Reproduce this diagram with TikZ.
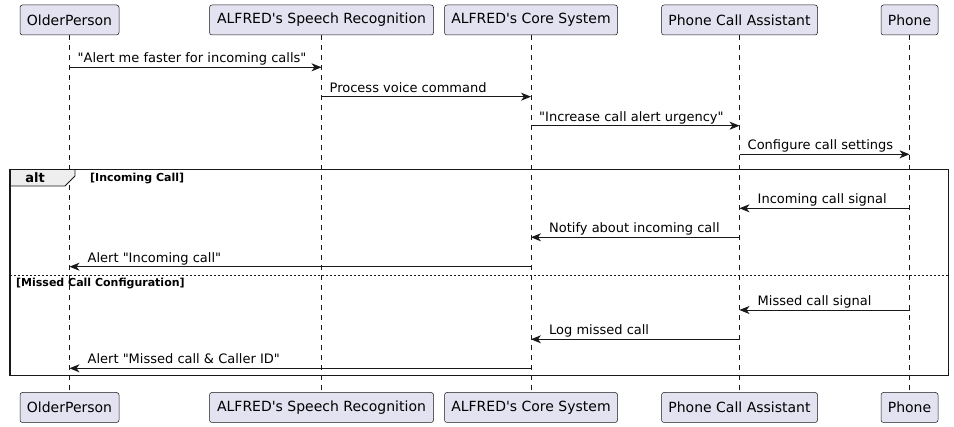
\documentclass[tikz,border=0pt]{standalone}
\usepackage{fontspec}
\setmainfont{DejaVu Sans}[Ligatures=TeXOff]
\usetikzlibrary{arrows.meta}
\definecolor{partfill}{HTML}{E2E2F0}
\definecolor{ink}{HTML}{181818}
\definecolor{tabfill}{HTML}{EEEEEE}
\tikzset{
  part/.style={draw=ink, fill=partfill, rounded corners=2.5pt, line width=0.5pt, minimum height=30pt, inner sep=0pt, font=\fontsize{14}{16}\selectfont},
  life/.style={draw=ink, line width=0.5pt, dash pattern=on 5pt off 5pt},
  msg/.style={draw=ink, line width=0.8pt, -{Stealth[length=10pt,width=8pt,inset=3pt]}},
  lbl/.style={anchor=base west, inner sep=0pt, font=\fontsize{13}{15}\selectfont},
  guard/.style={anchor=base west, inner sep=0pt, font=\fontsize{11}{13}\selectfont\bfseries},
}
\begin{document}
\begin{tikzpicture}[x=1pt,y=-1pt]
\useasboundingbox (0,0) rectangle (954,427);
\fill[white] (0,0) rectangle (954,427);
% participants top
\node[part, minimum width=99pt]  (opT) at (69.5,20) {OlderPerson};
\node[part, minimum width=224pt] (srT) at (321.5,20) {ALFRED's Speech Recognition};
\node[part, minimum width=173pt] (csT) at (531,20) {ALFRED's Core System};
\node[part, minimum width=156pt] (paT) at (739.5,20) {Phone Call Assistant};
\node[part, minimum width=57pt]  (phT) at (909.5,20) {Phone};
% participants bottom
\node[part, minimum width=99pt]  (opB) at (69.5,407.5) {OlderPerson};
\node[part, minimum width=224pt] (srB) at (321.5,407.5) {ALFRED's Speech Recognition};
\node[part, minimum width=173pt] (csB) at (531,407.5) {ALFRED's Core System};
\node[part, minimum width=156pt] (paB) at (739.5,407.5) {Phone Call Assistant};
\node[part, minimum width=57pt]  (phB) at (909.5,407.5) {Phone};
% lifelines
\foreach \p in {op,sr,cs,pa,ph}{
  \draw[life] (\p T.south) -- (\p B.north);
}
% alt frame
\coordinate (fTL) at (10,169.5);
\coordinate (fBR) at (948.5,375.5);
\fill[tabfill] (10,169.5) -- (75,169.5) -- (75,176) -- (65,186) -- (10,186) -- cycle;
\draw[ink, line width=0.8pt] (10,186) -- (65,186) -- (75,176) -- (75,169.5);
\draw[ink, line width=1.5pt] (fTL) rectangle (fBR);
\node[anchor=base, inner sep=0pt, font=\fontsize{13}{15}\selectfont\bfseries] (altlbl) at (35,182.5) {alt};
\node[guard] (g1) at (90,181.5) {[Incoming Call]};
\draw[ink, line width=0.8pt, dash pattern=on 2pt off 2pt] (10,275.5) -- (948.5,275.5);
\node[guard] (g2) at (16,286.5) {[Missed Call Configuration]};
% message coordinates
\foreach \i/\y in {1/67.3,2/96.7,3/125.7,4/154.3,5/208.3,6/237.3,7/266.7,8/310,9/339.3,10/368.3}{
  \coordinate (op\i) at (69.5,\y);
  \coordinate (sr\i) at (321.5,\y);
  \coordinate (cs\i) at (531,\y);
  \coordinate (pa\i) at (739.5,\y);
  \coordinate (ph\i) at (909.5,\y);
}
% messages
\draw[msg] (op1) -- (sr1);
\node[lbl] (m1) at ([xshift=8pt,yshift=4.3pt]op1) {"Alert me faster for incoming calls"};
\draw[msg] (sr2) -- (cs2);
\node[lbl] (m2) at ([xshift=8pt,yshift=4.3pt]sr2) {Process voice command};
\draw[msg] (cs3) -- (pa3);
\node[lbl] (m3) at ([xshift=8pt,yshift=4.3pt]cs3) {"Increase call alert urgency"};
\draw[msg] (pa4) -- (ph4);
\node[lbl] (m4) at ([xshift=8pt,yshift=4.3pt]pa4) {Configure call settings};
\draw[msg] (ph5) -- (pa5);
\node[lbl] (m5) at ([xshift=18pt,yshift=4.3pt]pa5) {Incoming call signal};
\draw[msg] (pa6) -- (cs6);
\node[lbl] (m6) at ([xshift=18pt,yshift=4.3pt]cs6) {Notify about incoming call};
\draw[msg] (cs7) -- (op7);
\node[lbl] (m7) at ([xshift=18pt,yshift=4.3pt]op7) {Alert "Incoming call"};
\draw[msg] (ph8) -- (pa8);
\node[lbl] (m8) at ([xshift=18pt,yshift=4.3pt]pa8) {Missed call signal};
\draw[msg] (pa9) -- (cs9);
\node[lbl] (m9) at ([xshift=18pt,yshift=4.3pt]cs9) {Log missed call};
\draw[msg] (cs10) -- (op10);
\node[lbl] (m10) at ([xshift=18pt,yshift=4.3pt]op10) {Alert "Missed call \& Caller ID"};
\end{tikzpicture}
\end{document}
